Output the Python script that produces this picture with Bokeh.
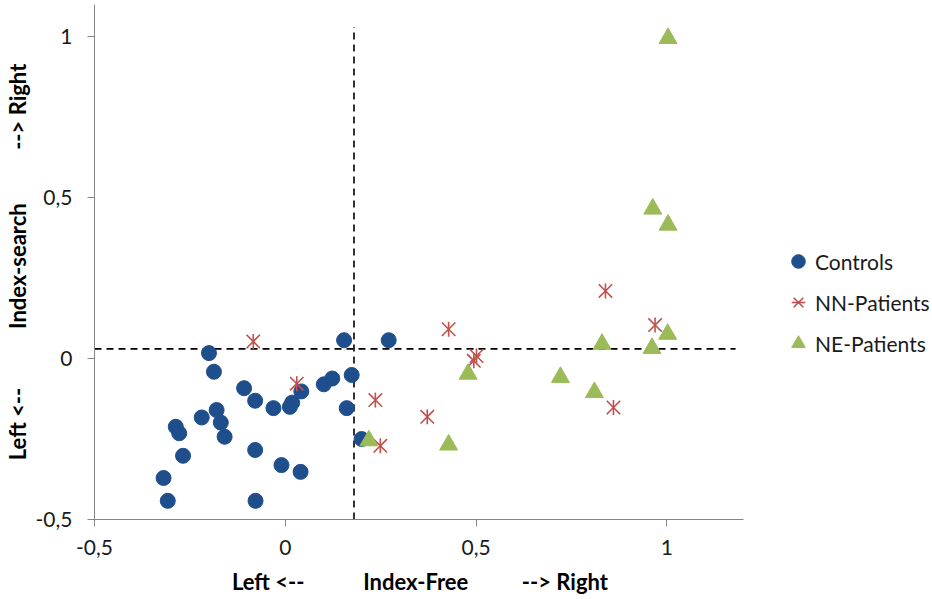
from bokeh.plotting import figure
from bokeh.models import Range1d, FixedTicker, Legend, LegendItem
from bokeh.embed import file_html
from bokeh.resources import INLINE
import math

# Controls
ctrl_x = [0.154, 0.271, -0.200, -0.187, -0.108, -0.079, -0.031, 0.018, 0.042, 0.101,
          0.123, 0.174, 0.161, 0.200, -0.180, -0.169, -0.159, -0.219, -0.287, -0.278,
          -0.268, -0.319, -0.308, -0.079, -0.010, 0.040, -0.078, 0.012]
ctrl_y = [0.057, 0.057, 0.017, -0.041, -0.092, -0.131, -0.154, -0.137, -0.102, -0.080,
          -0.062, -0.051, -0.154, -0.250, -0.160, -0.199, -0.243, -0.183, -0.212, -0.232,
          -0.302, -0.371, -0.442, -0.284, -0.331, -0.352, -0.442, -0.150]

# NN-Patients
nn_x = [-0.084, 0.030, 0.236, 0.249, 0.428, 0.494, 0.501, 0.372, 0.839, 0.969, 0.860]
nn_y = [0.053, -0.078, -0.129, -0.271, 0.091, -0.007, 0.008, -0.181, 0.210, 0.104, -0.152]

# NE-Patients
ne_x = [0.219, 0.428, 0.479, 0.721, 0.810, 0.830, 0.961, 1.002, 1.003, 0.963, 1.003]
ne_y = [-0.255, -0.268, -0.048, -0.058, -0.105, 0.045, 0.032, 0.076, 0.995, 0.465, 0.415]

# reference lines (threshold values and their extents)
thresh_x = [0.18]
thresh_x_y0 = [-0.5]
thresh_x_y1 = [1.03]
thresh_y = [0.03]
thresh_y_x0 = [-0.5]
thresh_y_x1 = [1.18]

ticks = [-0.5, 0, 0.5, 1]
tick_labels = ["-0,5", "0", "0,5", "1"]
x_axis_bounds = (-0.5, 1.2)

NB = "\u00a0"
# trailing non-breaking spaces shift the centred label left, under the axis proper
x_label = "Left <--" + NB * 11 + "Index-Free" + NB * 10 + "--> Right" + NB * 35
y_label = "Left <--" + NB * 11 + "Index-search" + NB * 10 + "--> Right"

FONT = "Lato"
AX = "#868686"

# plot area widened to the right so the legend can sit in it; the x axis is
# limited to its own bounds so it ends at 1.2 as in the original
p = figure(width=932, height=599, output_backend="svg", toolbar_location=None,
           x_range=Range1d(-0.5, 1.696), y_range=Range1d(-0.5, 1.1),
           min_border_left=92, min_border_right=0, min_border_top=4, min_border_bottom=80)
p.outline_line_color = None
p.xgrid.visible = False
p.ygrid.visible = False
p.background_fill_color = "white"

for ax in (p.xaxis[0], p.yaxis[0]):
    ax.ticker = FixedTicker(ticks=ticks)
    ax.major_label_overrides = {t: l for t, l in zip(ticks, tick_labels)}
    ax.axis_line_color = AX
    ax.major_tick_line_color = AX
    ax.minor_tick_line_color = None
    ax.major_tick_out = 7
    ax.major_tick_in = 0
    ax.major_label_text_font = FONT
    ax.major_label_text_font_size = "21px"
    ax.major_label_text_color = "#1a1a1a"
    ax.axis_label_text_font = FONT
    ax.axis_label_text_font_size = "22px"
    ax.axis_label_text_font_style = "bold"
    ax.axis_label_text_color = "#000000"

p.xaxis[0].bounds = x_axis_bounds
p.xaxis[0].axis_label = x_label
p.yaxis[0].axis_label = y_label
p.xaxis[0].major_label_standoff = 13
p.xaxis[0].axis_label_standoff = 10
p.yaxis[0].major_label_standoff = 15
p.yaxis[0].axis_label_standoff = 2

p.segment(x0=thresh_x, y0=thresh_x_y0, x1=thresh_x, y1=thresh_x_y1,
          line_color="black", line_width=1.6, line_dash="7 5")
p.segment(x0=thresh_y_x0, y0=thresh_y, x1=thresh_y_x1, y1=thresh_y,
          line_color="black", line_width=1.6, line_dash="7 5")

r_ctrl = p.scatter(ctrl_x, ctrl_y, marker="circle", size=15,
                   fill_color="#1F4E8C", line_color="#1F4E8C")
r_nnx = p.scatter(nn_x, nn_y, marker="x", size=19,
                  line_color="#C0504D", line_width=1.6)
r_nnv = p.scatter(nn_x, nn_y, marker="dash", size=15, angle=math.pi / 2,
                  line_color="#C0504D", line_width=1.6)
r_ne = p.scatter(ne_x, ne_y, marker="triangle", size=18,
                 fill_color="#9BBB59", line_color="#9BBB59")

legend = Legend(items=[LegendItem(label="Controls", renderers=[r_ctrl]),
                       LegendItem(label="NN-Patients", renderers=[r_nnx, r_nnv]),
                       LegendItem(label="NE-Patients", renderers=[r_ne])],
                location=(687, 157))
legend.glyph_width = 34
legend.glyph_height = 38
legend.spacing = 3
legend.padding = 0
legend.margin = 0
legend.label_standoff = 0
legend.label_text_font = FONT
legend.label_text_font_size = "21px"
legend.label_text_color = "#1a1a1a"
legend.border_line_color = None
legend.background_fill_alpha = 0
p.add_layout(legend, "center")

open("out.html", "w").write(file_html(p, INLINE))
